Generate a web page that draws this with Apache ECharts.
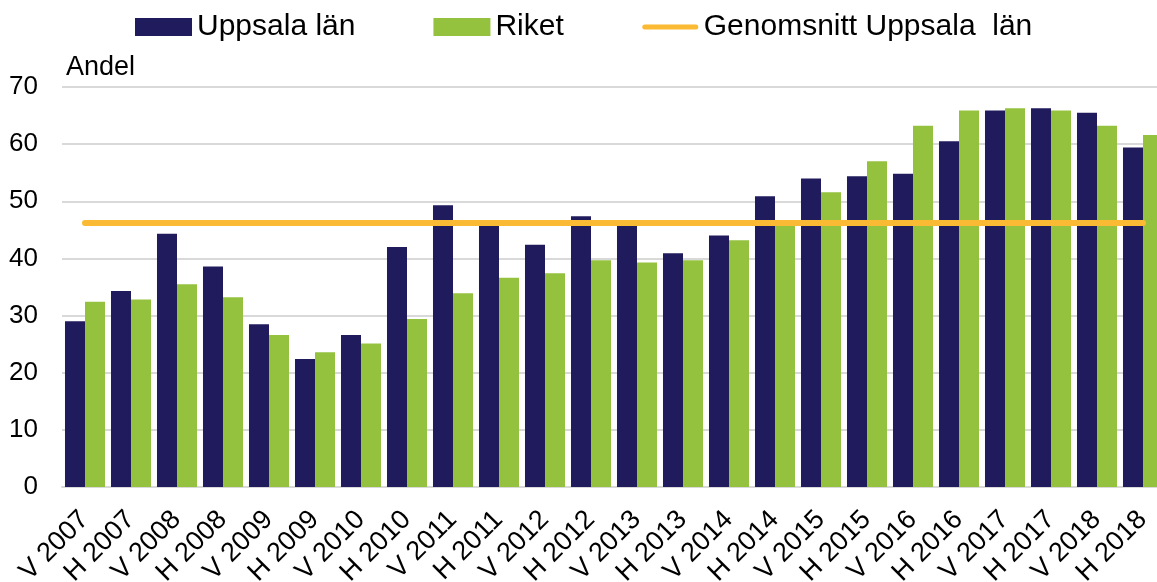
<!DOCTYPE html>
<html>
<head>
<meta charset="utf-8">
<script src="https://cdn.jsdelivr.net/npm/echarts@6/dist/echarts.min.js"></script>
<style>
html,body{margin:0;padding:0;background:#fff;}
#chart{width:1157px;height:582px;}
</style>
</head>
<body>
<div id="chart"></div>
<script>
var categories = ['V 2007','H 2007','V 2008','H 2008','V 2009','H 2009','V 2010','H 2010','V 2011','H 2011','V 2012','H 2012','V 2013','H 2013','V 2014','H 2014','V 2015','H 2015','V 2016','H 2016','V 2017','H 2017','V 2018','H 2018'];
var uppsala = [29.0,34.3,44.3,38.6,28.5,22.4,26.6,42.0,49.3,46.2,42.4,47.4,45.9,40.9,44.0,50.9,54.0,54.4,54.8,60.5,65.9,66.3,65.5,59.4];
var riket = [32.4,32.8,35.5,33.2,26.6,23.6,25.1,29.4,33.9,36.6,37.4,39.7,39.3,39.7,43.2,46.6,51.6,57.0,63.2,65.9,66.3,65.9,63.2,61.6];
var avgValue = 46.2;
var average = categories.map(function(){ return avgValue; });
var yTicks = {min:0, max:70, interval:10};

var chart = echarts.init(document.getElementById('chart'), null, {renderer:'canvas'});
var font = 'Liberation Sans, Arial, sans-serif';
var lineIcon = 'path://M0,0 L0.01,0 L0.01,0.01 Z M3,6.5 L54,6.5 A2.5,2.5 0 0 1 54,11.5 L3,11.5 A2.5,2.5 0 0 1 3,6.5 Z M56.99,18 L57,18 L57,17.99 Z';
chart.setOption({
  animation:false,
  textStyle:{fontFamily:font},
  legend:{
    top:7, left:130,
    itemWidth:57, itemHeight:18, itemGap:78,
    textStyle:{fontSize:30, color:'#000', fontFamily:font},
    data:[
      {name:'Uppsala län', icon:'rect'},
      {name:'Riket', icon:'rect'},
      {name:'Genomsnitt Uppsala  län', icon:lineIcon, itemStyle:{color:'#FBBA33', borderWidth:0}}
    ]
  },
  grid:{left:62, right:-9, top:87, bottom:95, containLabel:false, outerBoundsMode:'none'},
  xAxis:{
    type:'category',
    data:categories,
    axisTick:{show:false},
    axisLine:{show:true, lineStyle:{color:'#D9D9D9', width:2}},
    axisLabel:{rotate:45, fontSize:27, color:'#000', fontFamily:font, margin:9, interval:0, align:'right', verticalAlign:'top', padding:[0,14,0,0]}
  },
  yAxis:{
    type:'value',
    min:yTicks.min, max:yTicks.max, interval:yTicks.interval,
    name:'Andel',
    nameLocation:'end',
    nameGap:19,
    nameTextStyle:{fontSize:27, color:'#000', align:'left', verticalAlign:'middle', padding:[0,0,0,4], fontFamily:font},
    axisLine:{show:false},
    axisTick:{show:false},
    axisLabel:{fontSize:26, color:'#000', margin:24, fontFamily:font},
    splitLine:{lineStyle:{color:'#D9D9D9', width:2}}
  },
  series:[
    {name:'Uppsala län', type:'bar', data:uppsala, barGap:'0%', barCategoryGap:'13%', itemStyle:{color:'#201B5C'}},
    {name:'Riket', type:'bar', data:riket, barGap:'0%', barCategoryGap:'13%', itemStyle:{color:'#94C13E'}},
    {name:'Genomsnitt Uppsala  län', type:'line', data:average, showSymbol:false, symbol:'none', z:5,
     lineStyle:{color:'#FBBA33', width:6, cap:'round'}, itemStyle:{color:'#FBBA33'}}
  ]
});
</script>
</body>
</html>
